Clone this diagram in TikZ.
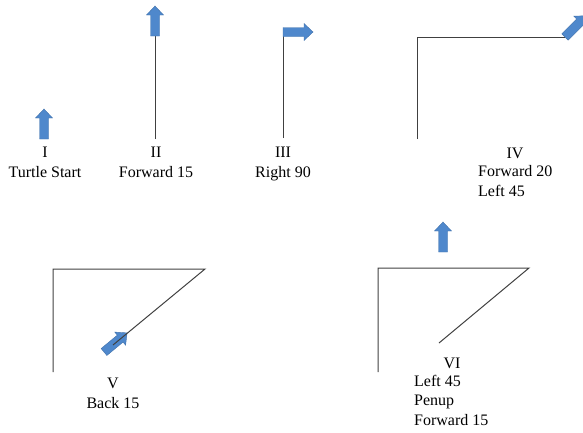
\documentclass[tikz,border=0pt]{standalone}
\usepackage{fontspec}
\setmainfont{Liberation Serif}

\begin{document}
\begin{tikzpicture}[x=1pt, y=-1pt,
    label/.style={font=\fontsize{16}{19.5}\selectfont, inner sep=0pt},
    trail/.style={draw=black!75, line width=1pt},
    turtle/.pic={
        \filldraw[fill=turtleblue, draw=turtleedge, line width=0.4pt]
        (-4.5,0) -- (4.5,0) -- (4.5,-21) -- (8.5,-21) -- (0,-30)
        -- (-8.5,-21) -- (-4.5,-21) -- cycle;
    }]
\definecolor{turtleblue}{RGB}{79,136,204}
\definecolor{turtleedge}{RGB}{65,113,170}

%cornice
\clip (0,0) rectangle (583,432);

% ======================================================
% I - start
% ======================================================
\pic at (44,139) {turtle};
\node[label, anchor=base, align=center] (nI) at (45,177) {I\\Turtle Start};

% ======================================================
% II - forward 15
% ======================================================
\draw[trail] (155,139) -- (155,36);
\pic at (155,36) {turtle};
\node[label, anchor=base, align=center] (nII) at (156,177) {II\\Forward 15};

% ======================================================
% III - right 90
% ======================================================
\draw[trail] (283,138) -- (283,32);
\pic[rotate=-90] at (283,32) {turtle};
\node[label, anchor=base, align=center] (nIII) at (283,177) {III\\Right 90};

% ======================================================
% IV - forward 20, left 45
% ======================================================
\draw[trail] (417,139) -- (417,37) -- (565,37);
\pic[rotate=-45] at (565,37) {turtle};
\node[label, anchor=base] (nIV) at (515,158) {IV};
\node[label, anchor=base west, align=left] (tIV) at (478,196) {Forward 20\\Left 45};

% ======================================================
% V - back 15
% ======================================================
\pic[rotate=-50.4] at (104,352) {turtle};
\draw[trail] (53,372) -- (53,269) -- (205,269) -- (113,345);
\node[label, anchor=base, align=center] (nV) at (113,408) {V\\Back 15};

% ======================================================
% VI - left 45, penup, forward 15
% ======================================================
\draw[trail] (378,372) -- (378,268) -- (529,268) -- (439,343);
\pic at (443,252) {turtle};
\node[label, anchor=base] (nVI) at (452,368) {VI};
\node[label, anchor=base west, align=left] (tVI) at (414,425) {Left 45\\Penup\\Forward 15};

\end{tikzpicture}
\end{document}
